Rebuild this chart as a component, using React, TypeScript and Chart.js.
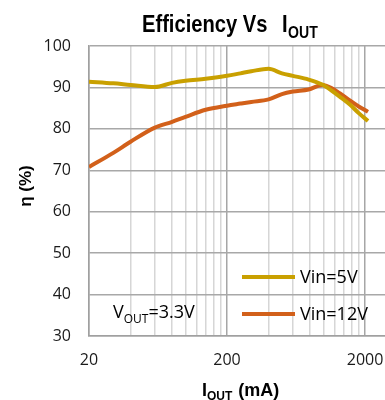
import React, { useEffect, useRef } from 'react';
import { Chart, registerables } from 'chart.js';

Chart.register(...registerables);

// ---- data ----
const loadCurrentMA = [20, 30, 40, 60, 80, 100, 140, 200, 250, 300, 400, 500, 600, 780, 980, 1150, 1310, 1560, 1800, 2100];
const effVin5V = [91.4, 91.0, 90.6, 90.1, 91.1, 91.6, 92.1, 92.8, 93.4, 93.9, 94.5, 93.4, 92.8, 91.9, 90.7, 89.2, 87.8, 85.8, 83.8, 81.9];
const effVin12V = [70.8, 74.2, 76.9, 80.3, 81.7, 82.9, 84.6, 85.6, 86.1, 86.5, 87.1, 88.4, 89.0, 89.5, 90.6, 89.8, 88.6, 86.8, 85.4, 84.1];
const seriesLabels = ['Vin=5V', 'Vin=12V'];
const seriesColors = ['#C9A000', '#D2601A'];
const xMajorTicks = [20, 200, 2000];
const xGridValues = [20, 40, 60, 80, 100, 120, 140, 160, 180, 200, 400, 600, 800, 1000, 1200, 1400, 1600, 1800, 2000];
const yTicks = [30, 40, 50, 60, 70, 80, 90, 100];

const X_MIN = 20;
const X_MAX = 2790;

function drawScaled(ctx: CanvasRenderingContext2D, text: string, x: number, y: number, font: string, sx: number): number {
  ctx.save();
  ctx.font = font;
  const w = ctx.measureText(text).width * sx;
  ctx.translate(x, y);
  ctx.scale(sx, 1);
  ctx.fillText(text, 0, 0);
  ctx.restore();
  return w;
}

const textPlugin = {
  id: 'customText',
  afterDraw(chart: any) {
    const ctx: CanvasRenderingContext2D = chart.ctx;
    const ca = chart.chartArea;
    ctx.save();
    ctx.fillStyle = '#000';
    ctx.textAlign = 'left';
    ctx.textBaseline = 'alphabetic';

    // Title
    const tf = 'bold 24px "Liberation Sans", Arial, sans-serif';
    drawScaled(ctx, 'Efficiency Vs', 142, 32, tf, 0.84);
    const wI = drawScaled(ctx, 'I', 282, 32, tf, 0.84);
    drawScaled(ctx, 'OUT', 282 + wI + 0.5, 38, 'bold 16px "Liberation Sans", Arial, sans-serif', 0.88);

    // X axis title
    const xf = 'bold 18px "Liberation Sans", Arial, sans-serif';
    let x = 202;
    x += drawScaled(ctx, 'I', x, 396, xf, 1);
    x += drawScaled(ctx, 'OUT', x, 400, 'bold 12px "Liberation Sans", Arial, sans-serif', 1);
    drawScaled(ctx, ' (mA)', x + 1, 396, xf, 1);

    // Y axis title
    ctx.save();
    ctx.translate(26, 186);
    ctx.rotate(-Math.PI / 2);
    ctx.textAlign = 'center';
    ctx.textBaseline = 'middle';
    ctx.font = 'bold 17px "Liberation Sans", Arial, sans-serif';
    ctx.fillText('η (%)', 0, 0);
    ctx.restore();

    // V_OUT annotation
    const af = '18px "Open Sans", sans-serif';
    let ax = 113;
    ax += drawScaled(ctx, 'V', ax, 318, af, 1);
    ax += drawScaled(ctx, 'OUT', ax, 323, '12px "Open Sans", sans-serif', 1);
    drawScaled(ctx, '=3.3V', ax, 318, af, 1);

    // Legend
    const legY = [277, 314];
    chart.data.datasets.forEach((ds: any, i: number) => {
      const y = legY[i];
      ctx.strokeStyle = ds.borderColor;
      ctx.lineWidth = 4;
      ctx.beginPath();
      ctx.moveTo(ca.right - 143, y);
      ctx.lineTo(ca.right - 90, y);
      ctx.stroke();
      ctx.fillStyle = '#000';
      ctx.font = af;
      ctx.textBaseline = 'middle';
      ctx.fillText(ds.label, ca.right - 85, y + 1);
    });
    ctx.restore();
  },
};

export default function App() {
  const ref = useRef<HTMLCanvasElement | null>(null);
  useEffect(() => {
    if (!ref.current) return;
    const chart = new Chart(ref.current, {
      type: 'line',
      data: {
        datasets: [
          {
            label: seriesLabels[0],
            data: loadCurrentMA.map((v, i) => ({ x: v, y: effVin5V[i] })),
            borderColor: seriesColors[0],
            backgroundColor: seriesColors[0],
            borderWidth: 4,
            pointRadius: 0,
            cubicInterpolationMode: 'monotone',
          },
          {
            label: seriesLabels[1],
            data: loadCurrentMA.map((v, i) => ({ x: v, y: effVin12V[i] })),
            borderColor: seriesColors[1],
            backgroundColor: seriesColors[1],
            borderWidth: 4,
            pointRadius: 0,
            cubicInterpolationMode: 'monotone',
          },
        ],
      },
      options: {
        responsive: false,
        animation: false,
        layout: { padding: { top: 46, left: 0, right: 0, bottom: 0 } },
        plugins: { legend: { display: false }, title: { display: false }, tooltip: { enabled: false } },
        scales: {
          x: {
            type: 'logarithmic',
            min: X_MIN,
            max: X_MAX,
            afterBuildTicks: (scale: any) => {
              scale.ticks = xGridValues.map((v) => ({ value: v }));
            },
            afterFit: (scale: any) => {
              scale.height = 64;
              scale.paddingLeft = 0;
              scale.paddingRight = 0;
            },
            ticks: {
              autoSkip: false,
              maxRotation: 0,
              padding: 15,
              color: '#1a1a1a',
              font: { family: '"Open Sans", sans-serif', size: 16 },
              callback: (v: any) => (xMajorTicks.includes(Number(v)) ? String(v) : ''),
            },
            grid: {
              drawTicks: false,
              color: (c: any) => (xMajorTicks.includes(c.tick?.value) ? '#a6a6a6' : '#d6d6d6'),
              lineWidth: 1.5,
            },
            border: { display: true, color: '#a0a0a0', width: 1.5 },
          },
          y: {
            type: 'linear',
            min: 30,
            max: 100,
            afterBuildTicks: (scale: any) => {
              scale.ticks = yTicks.map((v) => ({ value: v }));
            },
            afterFit: (scale: any) => {
              scale.width = 89;
              scale.paddingTop = 0;
              scale.paddingBottom = 0;
            },
            ticks: {
              padding: 18,
              color: '#1a1a1a',
              font: { family: '"Open Sans", sans-serif', size: 16 },
            },
            grid: { drawTicks: false, color: '#a8a8a8', lineWidth: 1.5 },
            border: { display: true, color: '#a0a0a0', width: 1.5 },
          },
        },
      },
      plugins: [textPlugin],
    } as any);
    return () => chart.destroy();
  }, []);
  return (
    <canvas
      ref={ref}
      width={385}
      height={400}
      style={{ position: 'absolute', left: 0, top: 0, display: 'block', background: '#fff' }}
    />
  );
}
